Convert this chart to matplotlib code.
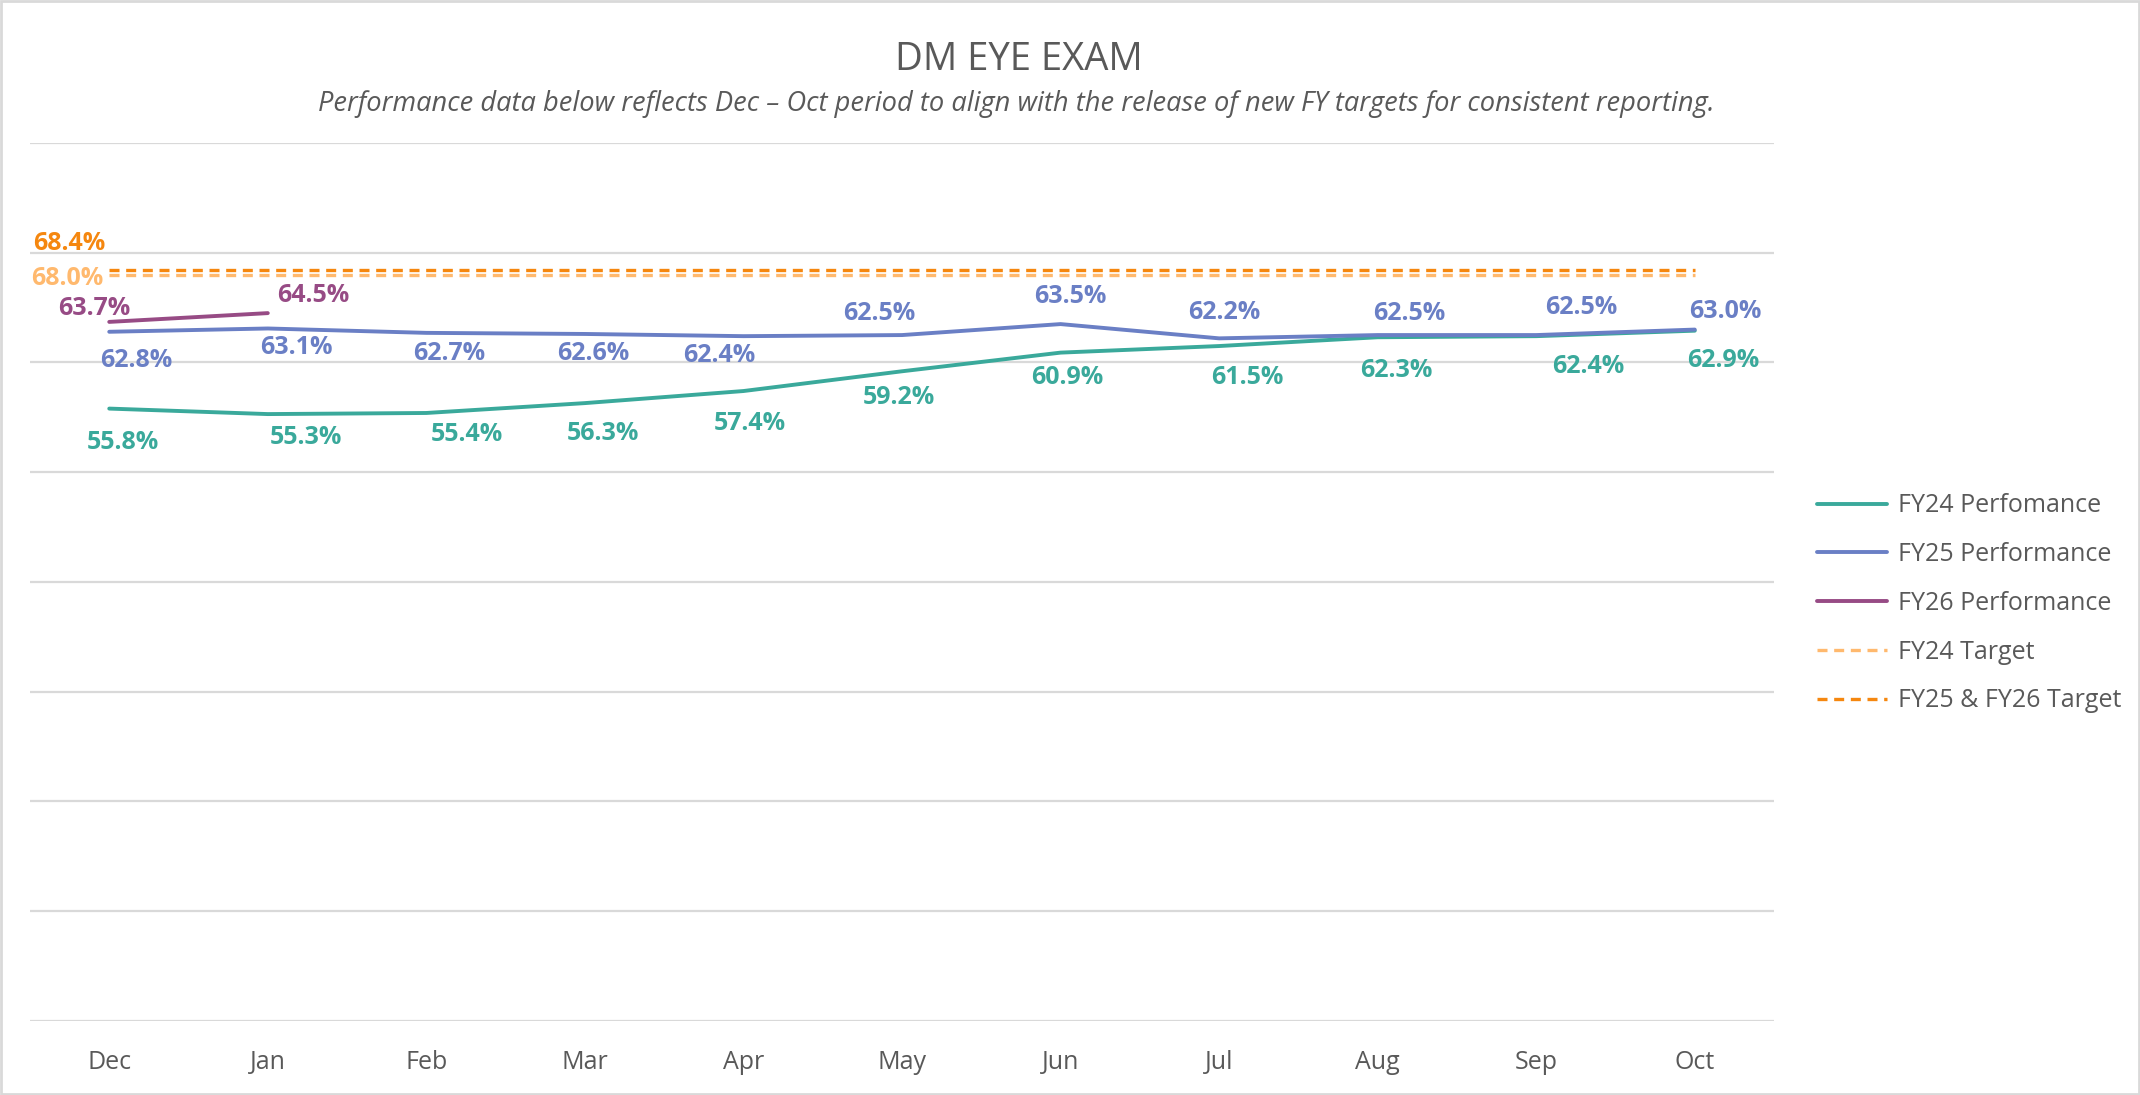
import matplotlib
matplotlib.use("Agg")
import matplotlib.pyplot as plt
from matplotlib.patches import Rectangle

plt.rcParams['font.family'] = ['Open Sans', 'DejaVu Sans']

months = ["Dec", "Jan", "Feb", "Mar", "Apr", "May", "Jun", "Jul", "Aug", "Sep", "Oct"]
fy24 = [55.8, 55.3, 55.4, 56.3, 57.4, 59.2, 60.9, 61.5, 62.3, 62.4, 62.9]
fy25 = [62.8, 63.1, 62.7, 62.6, 62.4, 62.5, 63.5, 62.2, 62.5, 62.5, 63.0]
fy26 = [63.7, 64.5]
fy24_target = 68.0
fy25_26_target = 68.4

c24 = "#3AA99B"
c25 = "#6A7FC5"
c26 = "#974B85"
c24t = "#FFB96E"
c2526t = "#F5870F"
grey = "#595959"

# label offsets in pixels (dx, dy up)
off24 = [(10, -25), (28, -17), (30, -16), (13, -22), (5, -24), (-2, -19), (5, -18),
         (21, -23), (14, -24), (38, -22), (21, -22)]
off25 = [(20, -21), (21, -14), (17, -15), (6, -14), (-18, -14), (-17, 16), (7, 20),
         (4, 19), (23, 16), (33, 20), (22, 13)]
off26 = [(-11, 10), (33, 13)]

fig = plt.figure(figsize=(21.4, 10.95), dpi=100)
ax = fig.add_axes([0.014, 0.0676, 0.815, 0.8018])

x = list(range(len(months)))
ax.plot(x, fy24, color=c24, lw=2.8, label="FY24 Perfomance", solid_capstyle="round")
ax.plot(x, fy25, color=c25, lw=2.8, label="FY25 Performance", solid_capstyle="round")
ax.plot(x[:len(fy26)], fy26, color=c26, lw=2.8, label="FY26 Performance", solid_capstyle="round")
ax.plot(x, [fy24_target] * len(x), color=c24t, lw=2.4, ls=(0, (3, 2)), label="FY24 Target")
ax.plot(x, [fy25_26_target] * len(x), color=c2526t, lw=2.4, ls=(0, (3, 2)), label="FY25 & FY26 Target")

s = 1.365
for vals, offs, col in [(fy24, off24, c24), (fy25, off25, c25), (fy26, off26, c26)]:
    for i, (v, (dx, dy)) in enumerate(zip(vals, offs)):
        ax.annotate(f"{v:.1f}%", (i, v), xytext=(dx * s, dy * s), textcoords="offset pixels",
                    ha="center", va="center", fontsize=18, color=col, fontweight="bold")

ax.annotate(f"{fy25_26_target:.1f}%", (0, fy25_26_target), xytext=(-29 * s, 20 * s),
            textcoords="offset pixels", ha="center", va="center", fontsize=18,
            color=c2526t, fontweight="bold")
ax.annotate(f"{fy24_target:.1f}%", (0, fy24_target), xytext=(-31 * s, -3 * s),
            textcoords="offset pixels", ha="center", va="center", fontsize=18,
            color=c24t, fontweight="bold")

ax.set_xlim(-0.5, len(months) - 0.5)
ax.set_ylim(0, 80)
ax.set_yticks(range(0, 81, 10))
ax.set_yticklabels([])
ax.set_xticks(x)
ax.set_xticklabels(months, fontsize=18, color=grey)
ax.tick_params(axis="both", length=0)
ax.tick_params(axis="x", pad=21)
ax.grid(axis="y", color="#D9D9D9", lw=1.6)
ax.set_axisbelow(True)
for sp in ax.spines.values():
    sp.set_visible(False)

fig.text(0.476, 0.945, "DM EYE EXAM", ha="center", va="center", fontsize=27.5, color=grey)
fig.text(0.475, 0.905, "Performance data below reflects Dec \u2013 Oct period to align with the release of new FY targets for consistent reporting.",
         ha="center", va="center", fontsize=19.6, color=grey, style="italic")

leg = fig.legend(loc="center left", bbox_to_anchor=(0.849, 0.449), frameon=False, fontsize=18,
                 handlelength=2.8, handletextpad=0.45, labelspacing=0.95, borderpad=0, borderaxespad=0)
for t in leg.get_texts():
    t.set_color(grey)

fig.patches.append(Rectangle((0.0005, 0.001), 0.999, 0.998, transform=fig.transFigure,
                             fill=False, edgecolor="#D9D9D9", lw=2))

fig.savefig("out.png", dpi=100)
